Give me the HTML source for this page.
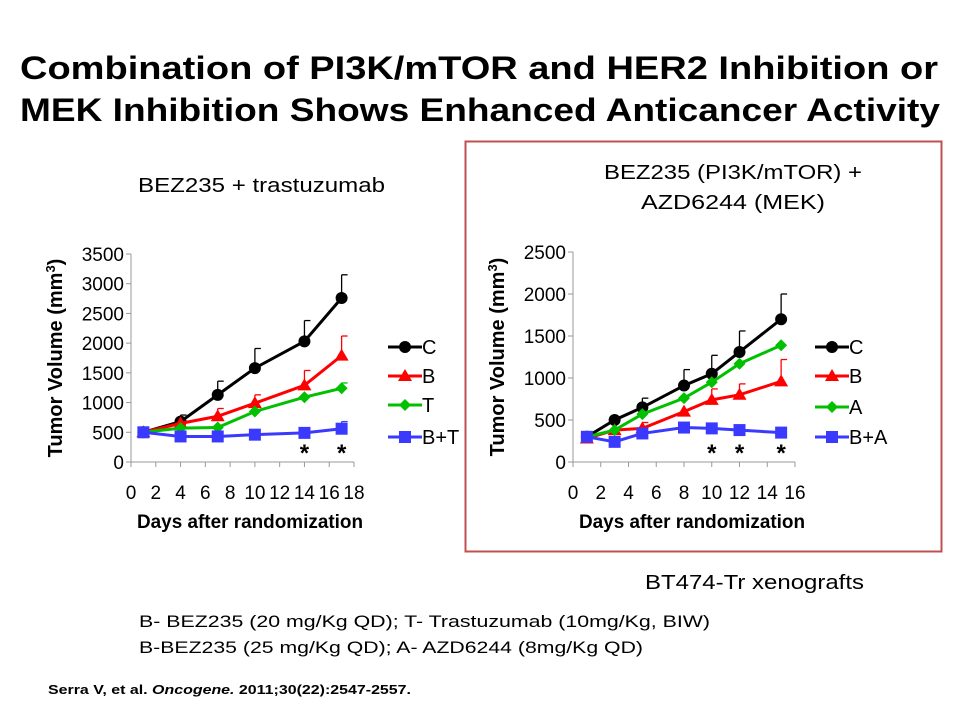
<!DOCTYPE html>
<html><head><meta charset="utf-8"><style>
body{margin:0;background:#fff;width:960px;height:720px;overflow:hidden;font-family:"Liberation Sans",sans-serif}
svg text{font-family:"Liberation Sans",sans-serif}
</style></head><body>
<svg id="s" width="960" height="720">
<text x="20" y="79" font-size="32" font-weight="bold" textLength="918" lengthAdjust="spacingAndGlyphs">Combination of PI3K/mTOR and HER2 Inhibition or</text>
<text x="20" y="121" font-size="32" font-weight="bold" textLength="920" lengthAdjust="spacingAndGlyphs">MEK Inhibition Shows Enhanced Anticancer Activity</text>
<rect x="465.5" y="141.5" width="476" height="410" fill="none" stroke="#c0504d" stroke-width="2"/>
<text x="138" y="192" font-size="20" textLength="247" lengthAdjust="spacingAndGlyphs">BEZ235 + trastuzumab</text>
<text x="604" y="179" font-size="20" textLength="258" lengthAdjust="spacingAndGlyphs">BEZ235 (PI3K/mTOR) +</text>
<text x="641" y="209" font-size="20" textLength="184" lengthAdjust="spacingAndGlyphs">AZD6244 (MEK)</text>
<text x="645" y="589" font-size="20" textLength="219" lengthAdjust="spacingAndGlyphs">BT474-Tr xenografts</text>
<text x="139" y="627" font-size="17" textLength="571" lengthAdjust="spacingAndGlyphs">B- BEZ235 (20 mg/Kg QD); T- Trastuzumab  (10mg/Kg, BIW)</text>
<text x="139" y="653" font-size="17" textLength="504" lengthAdjust="spacingAndGlyphs">B-BEZ235 (25 mg/Kg QD); A- AZD6244 (8mg/Kg QD)</text>
<text x="48" y="694" font-size="13" font-weight="bold" textLength="363" lengthAdjust="spacingAndGlyphs">Serra V, et al. <tspan font-style="italic">Oncogene.</tspan> 2011;30(22):2547-2557.</text>
<g id="c1"></g><g id="c2"></g>
</svg>
<script>
// Left chart data
const daysL=[1,4,7,10,14,17];
const lC=[500,680,1130,1580,2030,2760], lCe=[null,790,1360,1910,2380,3150];
const lB=[500,650,770,990,1290,1790], lBe=[null,null,900,1130,1540,2120];
const lT=[500,570,580,850,1090,1240], lTe=[null,null,null,null,null,1330];
const lBT=[500,430,430,460,490,560], lBTe=[null,null,null,null,570,680];
const lStars=[14,17];
const lXTicks=[0,2,4,6,8,10,12,14,16,18];
const lYTicks=[0,500,1000,1500,2000,2500,3000,3500];
const lNames=["C","B","T","B+T"];
// Right chart data
const daysR=[1,3,5,8,10,12,15];
const rC=[300,500,650,910,1050,1310,1700], rCe=[null,null,760,1100,1270,1560,2000];
const rB=[280,380,400,600,740,800,960], rBe=[null,null,470,null,870,930,1220];
const rA=[300,380,570,760,950,1170,1390], rAe=[null,null,null,null,null,null,null];
const rBA=[300,240,340,410,400,380,350], rBAe=[null,null,null,null,null,null,null];
const rStars=[10,12,15];
const rXTicks=[0,2,4,6,8,10,12,14,16];
const rYTicks=[0,500,1000,1500,2000,2500];
const rNames=["C","B","A","B+A"];

const NS="http://www.w3.org/2000/svg";
const colors=["#000000","#ff0000","#00c000","#3a3aff"];
const markers=["circle","tri","diamond","square"];
function mk(p,t,a){const e=document.createElementNS(NS,t);for(const k in a)e.setAttribute(k,a[k]);p.appendChild(e);return e;}
function marker(g,type,x,y,c){
  let e;
  if(type==="circle")e=mk(g,"circle",{cx:x,cy:y,r:6,fill:c});
  else if(type==="tri")e=mk(g,"polygon",{points:`${x},${y-7} ${x+7},${y+5} ${x-7},${y+5}`,fill:c});
  else if(type==="diamond")e=mk(g,"polygon",{points:`${x},${y-6} ${x+6},${y} ${x},${y+6} ${x-6},${y}`,fill:c});
  else e=mk(g,"rect",{x:x-6,y:y-6,width:12,height:12,fill:c});
  return e;
}
function chart(gid,o){
  const g=document.getElementById(gid);
  const X=v=>o.x0+(v-o.xt[0])/(o.xt[o.xt.length-1]-o.xt[0])*(o.x1-o.x0);
  const Y=v=>o.y0-(v/o.yt[o.yt.length-1])*(o.y0-o.y1);
  let ax=mk(g,"line",{x1:o.x0,y1:o.y1,x2:o.x0,y2:o.y0,stroke:"#999","stroke-width":1});
  
  let bx=mk(g,"line",{x1:o.x0,y1:o.y0,x2:o.x1,y2:o.y0,stroke:"#999","stroke-width":1});
  
  o.yt.forEach(v=>{mk(g,"line",{x1:o.x0-5,x2:o.x0,y1:Y(v),y2:Y(v),stroke:"#999"});
    const t=mk(g,"text",{x:o.x0-7,y:Y(v)+7,"text-anchor":"end","font-size":19});t.textContent=v;
    });
  o.xt.forEach(v=>{mk(g,"line",{x1:X(v),x2:X(v),y1:o.y0,y2:o.y0+5,stroke:"#999"});
    const t=mk(g,"text",{x:X(v),y:o.y0+37,"text-anchor":"middle","font-size":19});t.textContent=v;
    });
  const yl=mk(g,"text",{x:0,y:0,transform:`translate(${o.x0-69},${(o.y0+o.y1)/2}) rotate(-90)`,"text-anchor":"middle","font-size":20,"font-weight":"bold"});
  yl.innerHTML='Tumor Volume (mm<tspan dy="-7" font-size="13">3</tspan><tspan dy="7">)</tspan>';
  
  const xl=mk(g,"text",{x:o.x0+6,y:o.y0+66,"font-size":19,"font-weight":"bold",textLength:226,lengthAdjust:"spacingAndGlyphs"});
  xl.textContent="Days after randomization";
  
  o.series.forEach((s,i)=>{
    const sg=mk(g,"g",{});
    
    
    s.e.forEach((e,j)=>{if(e!=null){const x=X(o.days[j]);
      mk(sg,"line",{x1:x,x2:x,y1:Y(s.v[j]),y2:Y(e),stroke:colors[i],"stroke-width":1.3});
      mk(sg,"line",{x1:x,x2:x+6,y1:Y(e),y2:Y(e),stroke:colors[i],"stroke-width":1.3});}});
    mk(sg,"polyline",{points:s.v.map((v,j)=>X(o.days[j])+","+Y(v)).join(" "),fill:"none",stroke:colors[i],"stroke-width":3});
    s.v.forEach((v,j)=>{const m=marker(sg,markers[i],X(o.days[j]),Y(v),colors[i]);
      });
    const ly=o.ly[i];
    const lg=mk(g,"g",{});
    
    mk(lg,"line",{x1:o.lx,x2:o.lx+34,y1:ly,y2:ly,stroke:colors[i],"stroke-width":3});
    marker(lg,markers[i],o.lx+17,ly,colors[i]);
    const t=mk(lg,"text",{x:o.lx+34,y:ly+7,"font-size":20});t.textContent=o.names[i];
  });
  o.stars.forEach(d=>{const t=mk(g,"text",{x:X(d),y:o.y0-1,"text-anchor":"middle","font-size":24,"font-weight":"bold"});t.textContent="*";
    });
}
chart("c1",{x0:131,x1:354,y0:462,y1:254,xt:lXTicks,yt:lYTicks,days:daysL,names:lNames,stars:lStars,
  series:[{v:lC,e:lCe},{v:lB,e:lBe},{v:lT,e:lTe},{v:lBT,e:lBTe}],lx:388,ly:[347,376,405,437]});
chart("c2",{x0:573,x1:795,y0:462,y1:252,xt:rXTicks,yt:rYTicks,days:daysR,names:rNames,stars:rStars,
  series:[{v:rC,e:rCe},{v:rB,e:rBe},{v:rA,e:rAe},{v:rBA,e:rBAe}],lx:815,ly:[347,376,407,437]});
</script>
</body></html>
